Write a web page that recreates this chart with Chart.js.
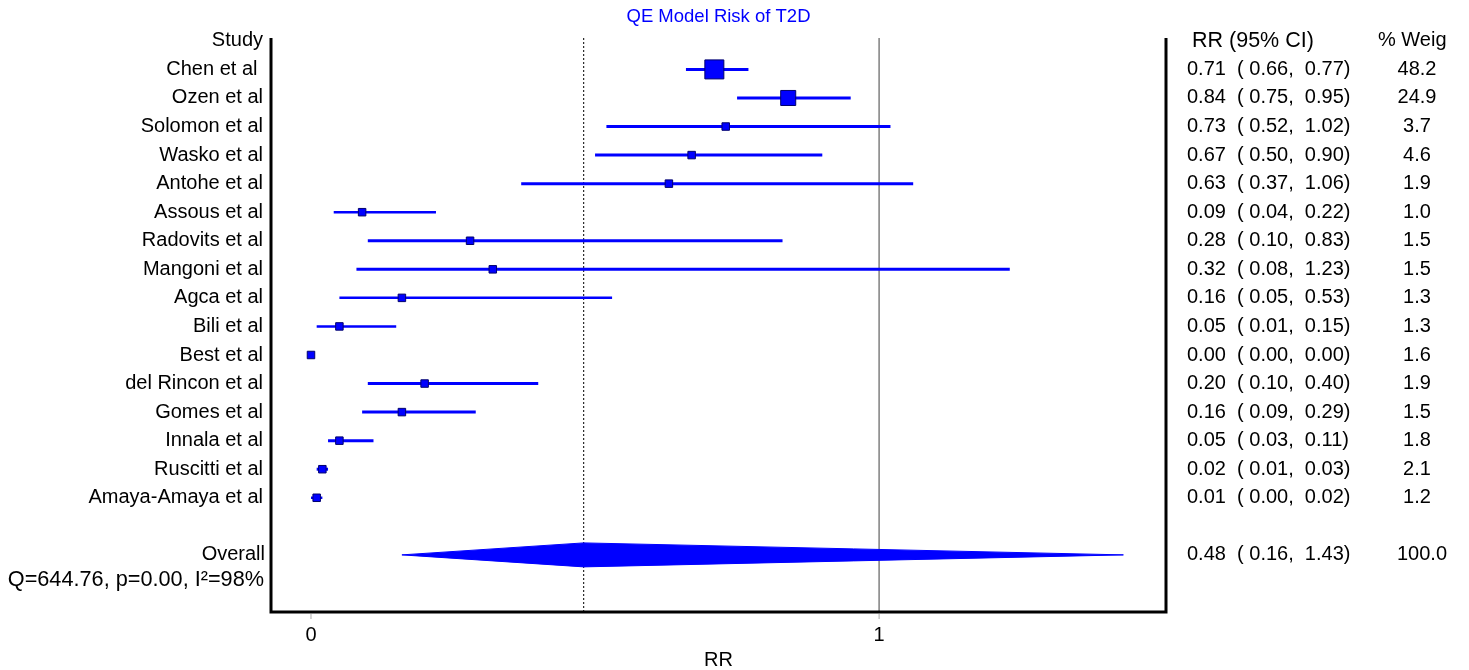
<!DOCTYPE html>
<html>
<head>
<meta charset="utf-8">
<script src="https://cdn.jsdelivr.net/npm/chart.js@4"></script>
<style>
  html, body { margin: 0; padding: 0; background: #fff; }
  #wrap { width: 1469px; height: 670px; }
</style>
</head>
<body>
<div id="wrap"><canvas id="forest" width="1469" height="670"></canvas></div>
<script>
// Datos del forest plot
const studies = ['Chen et al ', 'Ozen et al', 'Solomon et al', 'Wasko et al', 'Antohe et al',
  'Assous et al', 'Radovits et al', 'Mangoni et al', 'Agca et al', 'Bili et al', 'Best et al',
  'del Rincon et al', 'Gomes et al', 'Innala et al', 'Ruscitti et al', 'Amaya-Amaya et al'];
const rr      = [0.71, 0.84, 0.73, 0.67, 0.63, 0.09, 0.28, 0.32, 0.16, 0.05, 0.00, 0.20, 0.16, 0.05, 0.02, 0.01];
const lower   = [0.66, 0.75, 0.52, 0.50, 0.37, 0.04, 0.10, 0.08, 0.05, 0.01, 0.00, 0.10, 0.09, 0.03, 0.01, 0.00];
const upper   = [0.77, 0.95, 1.02, 0.90, 1.06, 0.22, 0.83, 1.23, 0.53, 0.15, 0.00, 0.40, 0.29, 0.11, 0.03, 0.02];
const weights = [48.2, 24.9, 3.7, 4.6, 1.9, 1.0, 1.5, 1.5, 1.3, 1.3, 1.6, 1.9, 1.5, 1.8, 2.1, 1.2];

const overallLabel = 'Overall';
const overall = [0.48, 0.16, 1.43];   // RR, lower, upper
const overallWeight = 100.0;
const heterogeneity = 'Q=644.76, p=0.00, I\u00B2=98%';
const xTicks = [0, 1];

const COLORS = {
  blue: '#0000ff',
  edge: '#00006e',
  text: '#000000',
  grid: '#808080'
};
const FONT = '"Liberation Sans", Arial, sans-serif';

// filas: 0 = cabecera, 1..16 estudios, 18 = overall, 19 = heterogeneidad
const rowOf = i => i + 1;
const OVERALL_ROW = 18;
const HET_ROW = 19;
const fmt = v => v.toFixed(2);

// Intervalos de confianza (un dataset por estudio)
const ciDatasets = studies.map((s, i) => ({
  type: 'line',
  data: [{ x: lower[i], y: rowOf(i) }, { x: upper[i], y: rowOf(i) }],
  borderColor: COLORS.blue,
  borderWidth: weights[i] >= 1.5 ? 3 : 2.5,
  pointRadius: 0,
  order: 3
}));

const squares = {
  type: 'scatter',
  data: rr.map((v, i) => ({ x: v, y: rowOf(i) })),
  pointStyle: 'rect',
  pointRadius: ctx => {
    const w = weights[ctx.dataIndex];
    const side = w > 10 ? 4.9 + 2.03 * Math.sqrt(w) : 7.5;
    return side / (2 * Math.SQRT1_2);
  },
  backgroundColor: COLORS.blue,
  borderColor: COLORS.edge,
  borderWidth: 1,
  order: 1
};

const diamondHalf = 0.42;
const diamond = {
  type: 'line',
  data: [
    { x: overall[1], y: OVERALL_ROW },
    { x: overall[0], y: OVERALL_ROW - diamondHalf },
    { x: overall[2], y: OVERALL_ROW },
    { x: overall[0], y: OVERALL_ROW + diamondHalf },
    { x: overall[1], y: OVERALL_ROW }
  ],
  fill: 'shape',
  backgroundColor: COLORS.blue,
  borderColor: COLORS.blue,
  borderWidth: 1,
  pointRadius: 0,
  tension: 0,
  order: 2
};

// Líneas de referencia: estimación global (punteada) y RR = 1
const refOverall = {
  type: 'line',
  data: [{ x: overall[0], y: -0.1 }, { x: overall[0], y: 20 }],
  borderColor: '#000',
  borderWidth: 1,
  borderDash: [2, 2],
  pointRadius: 0,
  order: 4
};
const refOne = {
  type: 'line',
  data: [{ x: 1, y: -0.1 }, { x: 1, y: 20 }],
  borderColor: COLORS.grid,
  borderWidth: 1.5,
  pointRadius: 0,
  order: 4
};

// Plugin para textos, ejes y marco
const forestDecor = {
  id: 'forestDecor',
  afterDraw(chart) {
    const { ctx, chartArea: a, scales: { x, y } } = chart;
    ctx.save();

    // marco (izquierda, abajo, derecha)
    ctx.strokeStyle = '#000';
    ctx.lineWidth = 3;
    ctx.beginPath();
    ctx.moveTo(a.left, a.top);
    ctx.lineTo(a.left, a.bottom);
    ctx.lineTo(a.right, a.bottom);
    ctx.lineTo(a.right, a.top);
    ctx.stroke();

    // ticks del eje x
    ctx.strokeStyle = '#aaa';
    ctx.lineWidth = 1;
    ctx.fillStyle = COLORS.text;
    ctx.font = '20px ' + FONT;
    ctx.textAlign = 'center';
    ctx.textBaseline = 'middle';
    xTicks.forEach(t => {
      const px = x.getPixelForValue(t);
      ctx.beginPath();
      ctx.moveTo(px, a.bottom + 2);
      ctx.lineTo(px, a.bottom + 7);
      ctx.stroke();
      ctx.fillText(String(t), px, a.bottom + 23);
    });
    ctx.fillText('RR', (a.left + a.right) / 2, a.bottom + 48);

    // título
    ctx.fillStyle = COLORS.blue;
    ctx.font = '18.5px ' + FONT;
    ctx.fillText('QE Model Risk of T2D', (a.left + a.right) / 2, 17);

    // etiquetas de estudios
    ctx.fillStyle = COLORS.text;
    ctx.font = '20px ' + FONT;
    ctx.textAlign = 'right';
    const lx = a.left - 8;
    ctx.fillText('Study', lx, y.getPixelForValue(0));
    studies.forEach((s, i) => ctx.fillText(s, lx, y.getPixelForValue(rowOf(i))));
    ctx.fillText(overallLabel, lx + 2, y.getPixelForValue(OVERALL_ROW));
    ctx.font = '21.7px ' + FONT;
    ctx.fillText(heterogeneity, lx + 1, y.getPixelForValue(HET_ROW) - 3);

    // columnas derechas
    ctx.font = '21.5px ' + FONT;
    ctx.textAlign = 'left';
    ctx.fillText('RR (95% CI)', 1192, y.getPixelForValue(0));
    ctx.font = '20px ' + FONT;
    ctx.fillText('% Weig', 1378, y.getPixelForValue(0));
    const rrText = (e, l, u) => fmt(e) + '  ( ' + fmt(l) + ',  ' + fmt(u) + ')';
    studies.forEach((s, i) => {
      const py = y.getPixelForValue(rowOf(i));
      ctx.textAlign = 'left';
      ctx.fillText(rrText(rr[i], lower[i], upper[i]), 1187, py);
      ctx.textAlign = 'center';
      ctx.fillText(weights[i].toFixed(1), 1417, py);
    });
    const oy = y.getPixelForValue(OVERALL_ROW);
    ctx.textAlign = 'left';
    ctx.fillText(rrText(overall[0], overall[1], overall[2]), 1187, oy);
    ctx.textAlign = 'center';
    ctx.fillText(overallWeight.toFixed(1), 1422, oy);

    ctx.restore();
  }
};

new Chart(document.getElementById('forest'), {
  type: 'scatter',
  data: { datasets: [refOverall, refOne, ...ciDatasets, diamond, squares] },
  options: {
    responsive: false,
    animation: false,
    layout: { padding: { left: 271, right: 303, top: 38, bottom: 58 } },
    plugins: { legend: { display: false }, tooltip: { enabled: false }, title: { display: false } },
    scales: {
      x: { type: 'linear', min: -0.0704, max: 1.505, display: false },
      y: { type: 'linear', min: -0.1, max: 20, reverse: true, display: false }
    }
  },
  plugins: [forestDecor]
});
</script>
</body>
</html>
